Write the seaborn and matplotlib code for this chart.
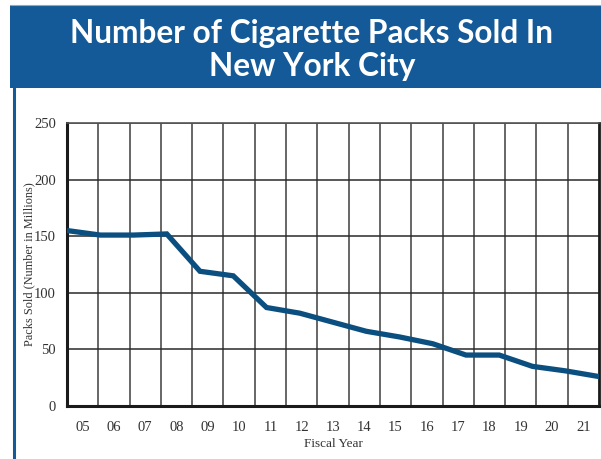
import numpy as np
import pandas as pd
import matplotlib
matplotlib.use("Agg")
import matplotlib.pyplot as plt
from matplotlib.patches import Rectangle
from matplotlib.lines import Line2D
import seaborn as sns

# Fiscal years shown on the axis
years = ["05", "06", "07", "08", "09", "10", "11", "12", "13",
         "14", "15", "16", "17", "18", "19", "20", "21"]
# Packs sold, millions
packs = [155, 151, 151, 152, 119, 115, 87, 82, 74, 66, 61, 55, 45, 45, 35, 31, 26]

title = "Number of Cigarette Packs Sold In\nNew York City"
xlabel = "Fiscal Year"
ylabel = "Packs Sold (Number in Millions)"

df = pd.DataFrame({"idx": np.arange(len(packs)), "packs": packs})

sns.set_theme(style="white")
plt.rcParams["font.family"] = ["Liberation Serif", "DejaVu Serif"]

fig = plt.figure(figsize=(6.01, 4.59), dpi=100)

# Header band
header_blue = "#155a98"
fig.add_artist(Rectangle((10 / 601, 1 - 88 / 459), 591 / 601, 83 / 459,
                         transform=fig.transFigure, facecolor=header_blue,
                         edgecolor="none"))
fig.add_artist(Line2D([10 / 601, 1], [1 - 4.5 / 459] * 2, transform=fig.transFigure,
                      color="#9aa6b4", lw=0.8))
fig.add_artist(Line2D([13.5 / 601] * 2, [0, 1 - 88 / 459], transform=fig.transFigure,
                      color=header_blue, lw=2.2))
fig.text(312 / 601, 1 - 50 / 459, title, ha="center", va="center",
         color="white", fontsize=22.8, fontweight="bold",
         family=["Lato", "DejaVu Sans"], linespacing=1.2)

ax = fig.add_axes([67 / 601, 53 / 459, 532 / 601, 283 / 459])
n = len(packs)
sns.lineplot(data=df, x="idx", y="packs", ax=ax, color="#0b4f80", lw=3.8,
             solid_capstyle="butt", solid_joinstyle="miter", zorder=5)

ax.set_xlim(0, n - 1)
ax.set_ylim(0, 250)

cell = (n - 1) / n
ax.set_xticks((np.arange(n) + 0.5) * cell)
ax.set_xticklabels(years)
ax.set_xticks(np.arange(1, n) * cell, minor=True)
ax.set_yticks([0, 50, 100, 150, 200, 250])

ax.grid(which="minor", axis="x", color="#5a5a5a", lw=1.3)
ax.grid(which="major", axis="y", color="#2a2a2a", lw=1.1)
ax.grid(which="major", axis="x", visible=False)

for side in ["left", "bottom"]:
    ax.spines[side].set_color("#1a1a1a")
    ax.spines[side].set_linewidth(2.2)
ax.spines["top"].set_color("#555555")
ax.spines["top"].set_linewidth(1.2)
ax.spines["right"].set_color("#1a1a1a")
ax.spines["right"].set_linewidth(2.0)

ax.tick_params(axis="both", which="both", length=0, labelsize=10.5,
               colors="#333333")
ax.tick_params(axis="x", pad=11)
ax.tick_params(axis="y", pad=8)

ax.set_xlabel(xlabel, fontsize=9.5, color="#333333", labelpad=3)
ax.set_ylabel(ylabel, fontsize=8.8, color="#333333", labelpad=-1)

fig.savefig("out.png", dpi=100, facecolor="white")
